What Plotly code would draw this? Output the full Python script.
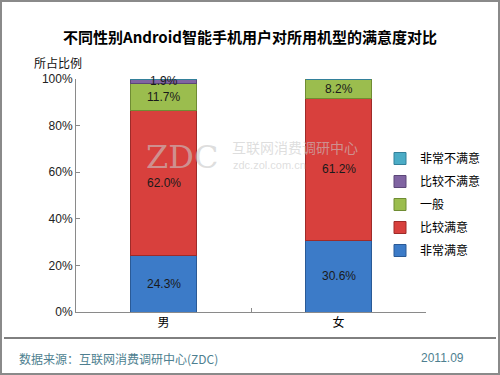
import plotly.graph_objects as go

categories = ["男", "女"]
series_names = ["非常满意", "比较满意", "一般", "比较不满意", "非常不满意"]
v_very_satisfied = [24.3, 30.6]
v_satisfied = [62.0, 61.2]
v_neutral = [11.7, 8.2]
v_unsatisfied = [1.9, 0.0]
v_very_unsatisfied = [0.1, 0.0]
series_values = [v_very_satisfied, v_satisfied, v_neutral, v_unsatisfied, v_very_unsatisfied]
y_ticks = [0, 20, 40, 60, 80, 100]
y_tick_labels = ["0%", "20%", "40%", "60%", "80%", "100%"]

colors = ["#3C7BC8", "#D8403D", "#9BBD4E", "#8064A2", "#4BACC6"]
edge = ["#2A5A96", "#9E2B29", "#6F8C33", "#5C4778", "#33809A"]

W, H = 500, 375
L, R, T, B = 76, 426, 79, 312  # plot area in pixels


def px(x):
    return (x - L) / (R - L)


def py(y):
    return (B - y) / (B - T)


FONT = "Arial, Liberation Sans, Noto Sans CJK SC, sans-serif"
CJK = "Noto Sans CJK SC, sans-serif"

fig = go.Figure()
n = len(series_names)
for i, (name, vals) in enumerate(zip(series_names, series_values)):
    fig.add_trace(go.Bar(
        x=categories, y=vals, name=name, width=0.375,
        marker=dict(color=colors[i], line=dict(color=edge[i], width=1)),
        legendgroup=name, legendrank=n - i, hoverinfo="skip",
    ))

# value labels at segment centres
annotations = []
for ci, cat in enumerate(categories):
    base = 0.0
    for si, vals in enumerate(series_values):
        v = vals[ci]
        if v >= 1.0:
            annotations.append(dict(
                x=cat, y=base + v / 2, xref="x", yref="y", text=f"{v:.1f}%",
                showarrow=False, font=dict(family=FONT, size=12, color="#1a1a1a"),
            ))
        base += v

# watermark
WM = "rgba(200,200,200,0.6)"
annotations += [
    dict(x=px(182), y=py(157), xref="paper", yref="paper", text="ZDC", showarrow=False,
         xanchor="center", yanchor="middle",
         font=dict(family="DejaVu Serif, serif", size=32, color=WM)),
    dict(x=px(230), y=py(147), xref="paper", yref="paper", text="互联网消费调研中心", showarrow=False,
         xanchor="left", yanchor="middle", font=dict(family=CJK, size=14, color=WM)),
    dict(x=px(231), y=py(165), xref="paper", yref="paper", text="zdc.zol.com.cn", showarrow=False,
         xanchor="left", yanchor="middle", font=dict(family=FONT, size=11, color=WM)),
]

# axis title and footer
annotations += [
    dict(x=px(32), y=py(62), xref="paper", yref="paper", text="所占比例", showarrow=False,
         xanchor="left", yanchor="middle", font=dict(family=CJK, size=12, color="#111")),
    dict(x=px(17), y=py(358), xref="paper", yref="paper", text="数据来源：互联网消费调研中心(ZDC)",
         showarrow=False, xanchor="left", yanchor="middle",
         font=dict(family=CJK, size=12, color="#4E7F90")),
    dict(x=px(466), y=py(358), xref="paper", yref="paper", text="2011.09",
         showarrow=False, xanchor="right", yanchor="middle",
         font=dict(family=FONT, size=12, color="#4E7F90")),
]

shapes = [
    dict(type="line", xref="paper", yref="paper", x0=px(4), x1=px(496), y0=py(338), y1=py(338),
         line=dict(color="#000", width=1)),
    dict(type="rect", xref="paper", yref="paper", x0=px(1), x1=px(499), y0=py(1), y1=py(374),
         line=dict(color="#8A8A8A", width=2)),
]

fig.update_layout(
    width=W, height=H,
    margin=dict(l=L, r=W - R, t=T, b=H - B, pad=0),
    barmode="stack",
    paper_bgcolor="white", plot_bgcolor="white",
    title=dict(text="<b>不同性别Android智能手机用户对所用机型的满意度对比</b>",
               x=0.5, xanchor="center", y=1 - 38 / H, yanchor="middle",
               font=dict(family=CJK, size=15, color="#000")),
    xaxis=dict(range=[-0.5, 1.5], showline=True, linecolor="#8A8A8A", linewidth=1,
               ticks="inside", ticklen=4, tickcolor="#8A8A8A", tickson="boundaries",
               showgrid=False, tickfont=dict(family=CJK, size=12, color="#000")),
    yaxis=dict(range=[0, 100], tickmode="array", tickvals=y_ticks, ticktext=y_tick_labels,
               showline=True, linecolor="#8A8A8A", linewidth=1, ticks="inside", ticklen=4,
               tickcolor="#8A8A8A", showgrid=False, zeroline=False,
               tickfont=dict(family=FONT, size=12, color="#222")),
    legend=dict(x=px(380), y=py(144), xanchor="left", yanchor="top", traceorder="grouped",
                tracegroupgap=4,
                font=dict(family=CJK, size=12, color="#000"), bgcolor="rgba(0,0,0,0)",
                itemwidth=30),
    annotations=annotations, shapes=shapes, showlegend=True,
)

fig.write_html("out.html", config={"displayModeBar": False},
               post_script="document.body.style.margin='0';document.body.style.padding='0';")
